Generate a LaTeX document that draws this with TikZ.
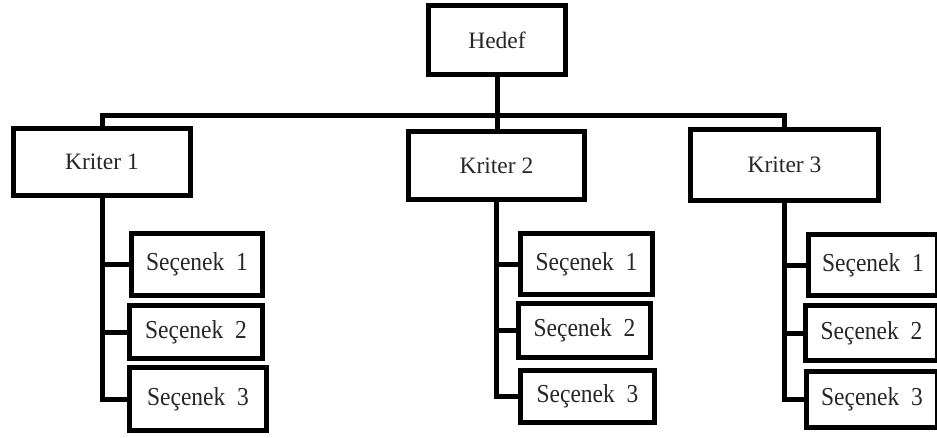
\documentclass[tikz,border=0pt]{standalone}
\usepackage{fontspec}
\setmainfont{Liberation Serif}
\newcommand{\opt}[1]{\scalebox{1}[1.1]{Seçenek\hspace{0.25em} #1}}
\begin{document}
\begin{tikzpicture}[x=1pt,y=-1pt,
  box/.style={draw, line width=5pt, inner sep=0pt, anchor=center,
    font=\fontsize{23.5}{26}\selectfont, text=black!85},
  link/.style={line width=5pt}]
\useasboundingbox (0,0) rectangle (937,437);
% top
\node[box, minimum width=137pt, minimum height=69pt] (hedef) at (497,40) {Hedef};
\node[box, minimum width=177pt, minimum height=67pt] (k1) at (102,162) {Kriter 1};
\node[box, minimum width=176pt, minimum height=68pt] (k2) at (496.5,165.5) {Kriter 2};
\node[box, minimum width=188pt, minimum height=71pt] (k3) at (784.5,165) {Kriter 3};
% options K1
\node[box, minimum width=131pt, minimum height=62pt] (a1) at (197,264.5) {\opt{1}};
\node[box, minimum width=133pt, minimum height=53pt] (a2) at (196,332) {\opt{2}};
\node[box, minimum width=137pt, minimum height=63pt] (a3) at (198,399) {\opt{3}};
% options K2
\node[box, minimum width=132pt, minimum height=61pt] (b1) at (586.5,264) {\opt{1}};
\node[box, minimum width=132pt, minimum height=54pt] (b2) at (584.5,330.5) {\opt{2}};
\node[box, minimum width=134pt, minimum height=52pt] (b3) at (587.5,396.5) {\opt{3}};
% options K3
\node[box, minimum width=129pt, minimum height=61pt] (c1) at (873,265) {\opt{1}};
\node[box, minimum width=132pt, minimum height=55pt] (c2) at (871.5,333) {\opt{2}};
\node[box, minimum width=131pt, minimum height=56pt] (c3) at (872,399.5) {\opt{3}};
% connectors
\coordinate (bar) at (497,115);
\draw[link] (hedef.south) -- (hedef.south |- k2.north);
\draw[link] (k1.north) |- (bar) -| (k3.north);
\draw[link] (k1.south) |- (a3.west);
\draw[link] (a1.west) -- (a1.west -| k1.south);
\draw[link] (a2.west) -- (a2.west -| k1.south);
\draw[link] (k2.south) |- (b3.west);
\draw[link] (b1.west) -- (b1.west -| k2.south);
\draw[link] (b2.west) -- (b2.west -| k2.south);
\draw[link] (k3.south) |- (c3.west);
\draw[link] (c1.west) -- (c1.west -| k3.south);
\draw[link] (c2.west) -- (c2.west -| k3.south);
\end{tikzpicture}
\end{document}
